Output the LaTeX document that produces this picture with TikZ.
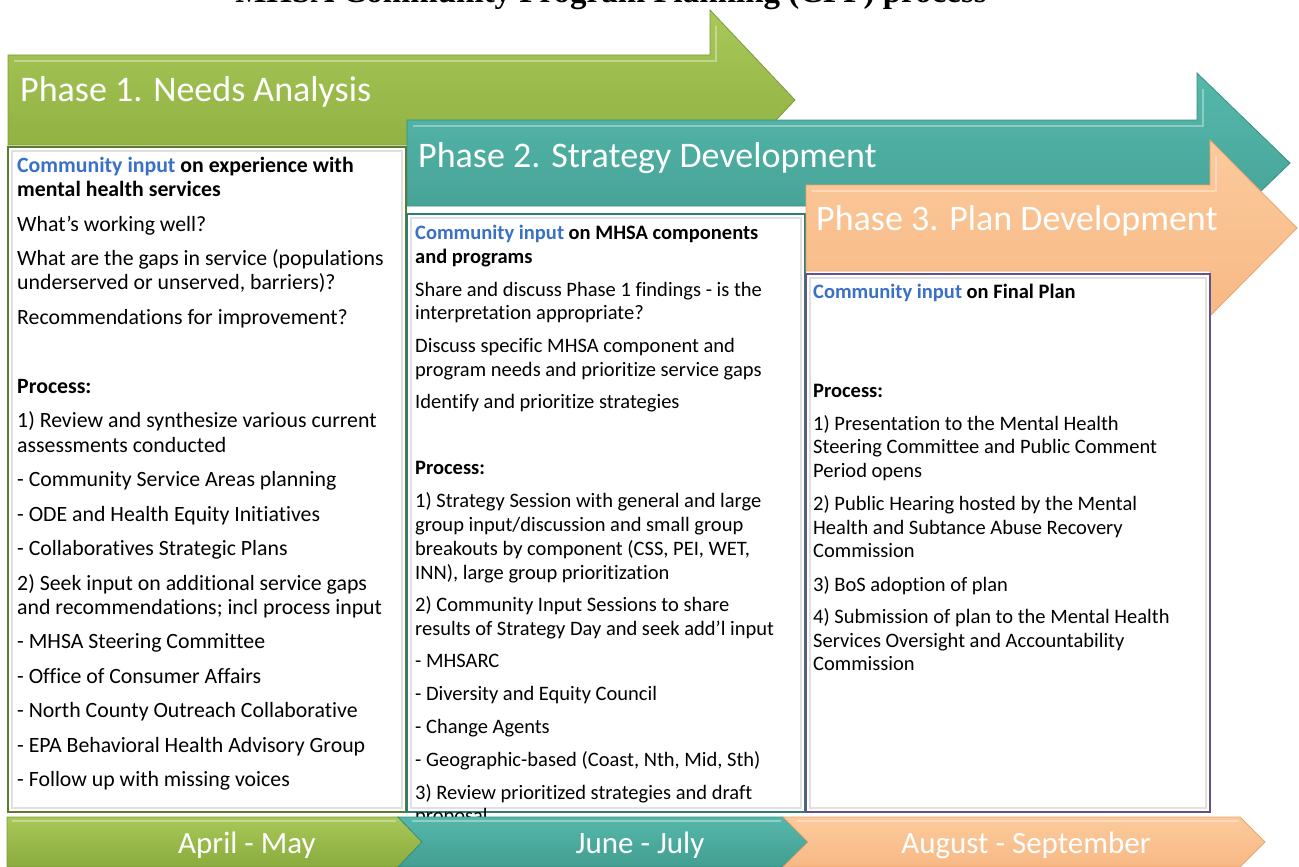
\documentclass[tikz,border=0pt]{standalone}
\usepackage{fontspec}
\setmainfont{Carlito}[Ligatures={ResetAll,NoCommon}]
\newfontfamily\titlefont{Liberation Serif}
\definecolor{gtop}{HTML}{A8C859}
\definecolor{gbot}{HTML}{8AAB3D}
\definecolor{gline}{HTML}{7D9C38}
\definecolor{ttop}{HTML}{55B8AB}
\definecolor{tbot}{HTML}{429E91}
\definecolor{tline}{HTML}{3A8D81}
\definecolor{ptop}{HTML}{FCCA9C}
\definecolor{pbot}{HTML}{F7B985}
\definecolor{pline}{HTML}{E9A56E}
\definecolor{b1line}{HTML}{5E7A2E}
\definecolor{b2line}{HTML}{2F7E72}
\definecolor{b3line}{HTML}{66508A}
\definecolor{ciblue}{HTML}{3A70C5}
\newcommand\cinput{\textcolor{ciblue}{\textbf{Community input}}}
\tikzset{
  garrow/.style={top color=gtop, bottom color=gbot, draw=gline, line width=0.8pt},
  tarrow/.style={top color=ttop, bottom color=tbot, draw=tline, line width=0.8pt},
  parrow/.style={top color=ptop, bottom color=pbot, draw=pline, line width=0.8pt},
  bevel/.style={draw=white, draw opacity=0.35, line width=1.5pt},
  boxA/.style={fill=white, draw=b1line, line width=1.6pt},
  boxB/.style={fill=white, draw=b2line, line width=1.6pt},
  boxC/.style={fill=white, draw=b3line, line width=1.6pt},
  innerframe/.style={draw=black!12, line width=2.5pt},
  headtxt/.style={anchor=base west, inner sep=0pt, text=white, font=\fontsize{36}{40}\selectfont},
  monthtxt/.style={anchor=base, inner sep=0pt, text=white, font=\fontsize{31}{34}\selectfont},
  txA/.style={anchor=base west, inner sep=0pt, font=\fontsize{21.8}{24}\selectfont},
  txB/.style={anchor=base west, inner sep=0pt, font=\fontsize{20.5}{23}\selectfont},
  titletxt/.style={anchor=base, inner sep=0pt, font=\titlefont\bfseries\fontsize{33}{36}\selectfont}
}
\begin{document}
\begin{tikzpicture}[x=1pt,y=-1pt]
\useasboundingbox (0,0) rectangle (1299,867);
\fill[white] (0,0) rectangle (1299,867);

% title (cut by the top edge, as in the reference)
\node[titletxt] (title) at (611,3) {MHSA Community Program Planning (CPP) process};

% Phase 1 arrow
\path[garrow] (8,55) -- (710,55) -- (710,10) -- (795,100) -- (710,190) -- (710,145) -- (8,145) -- cycle;
\draw[bevel] (14,61) -- (716,61) -- (716,26);
\node[headtxt] (h1) at (20,102) {Phase 1. Needs Analysis};

% Phase 1 box
\draw[boxA] (8,147) rectangle (406,812);
\draw[innerframe] (12,151) rectangle (402,808);

% Phase 2 arrow
\path[tarrow] (407,120) -- (1197,120) -- (1197,73) -- (1290,163) -- (1197,253) -- (1197,206) -- (407,206) -- cycle;
\draw[bevel] (413,126) -- (1203,126) -- (1203,89);
\node[headtxt] (h2) at (418,167) {Phase 2. Strategy Development};

% Phase 2 box
\draw[boxB] (407,214) rectangle (805,812);
\draw[innerframe] (411,218) rectangle (801,808);

% Phase 3 arrow
\path[parrow] (806,185) -- (1210,185) -- (1210,140) -- (1297,228) -- (1210,316) -- (1210,271) -- (806,271) -- cycle;
\draw[bevel] (812,191) -- (1216,191) -- (1216,156);
\node[headtxt] (h3) at (816,230) {Phase 3. Plan Development};

% Phase 3 box
\draw[boxC] (806,274) rectangle (1210,812);
\draw[innerframe] (810,278) rectangle (1206,808);

% Phase 1 text
\foreach \yy/\lt [count=\i] in {
  172/{\cinput\ \textbf{on experience with}},
  196/{\textbf{mental health services}},
  231/{What's working well?},
  265/{What are the gaps in service (populations},
  289/{underserved or unserved, barriers)?},
  324/{Recommendations for improvement?},
  393/{\textbf{Process:}},
  427/{1) Review and synthesize various current},
  452/{assessments conducted},
  486/{- Community Service Areas planning},
  521/{- ODE and Health Equity Initiatives},
  555/{- Collaboratives Strategic Plans},
  590/{2) Seek input on additional service gaps},
  614/{and recommendations; incl process input},
  648/{- MHSA Steering Committee},
  683/{- Office of Consumer Affairs},
  717/{- North County Outreach Collaborative},
  752/{- EPA Behavioral Health Advisory Group},
  786/{- Follow up with missing voices}}
  \node[txA, name=a\i] at (17,\yy) {\lt};

% Phase 2 text
\foreach \yy/\lt [count=\i] in {
  239/{\cinput\ \textbf{on MHSA components}},
  263/{\textbf{and programs}},
  296/{Share and discuss Phase 1 findings - is the},
  319/{interpretation appropriate?},
  352/{Discuss specific MHSA component and},
  376/{program needs and prioritize service gaps},
  408/{Identify and prioritize strategies},
  474/{\textbf{Process:}},
  507/{1) Strategy Session with general and large},
  531/{group input/discussion and small group},
  555/{breakouts by component (CSS, PEI, WET,},
  579/{INN), large group prioritization},
  611/{2) Community Input Sessions to share},
  635/{results of Strategy Day and seek add'l input},
  667/{- MHSARC},
  700/{- Diversity and Equity Council},
  733/{- Change Agents},
  766/{- Geographic-based (Coast, Nth, Mid, Sth)},
  799/{3) Review prioritized strategies and draft},
  822/{proposal}}
  \node[txB, name=b\i] at (415,\yy) {\lt};

% Phase 3 text
\foreach \yy/\lt [count=\i] in {
  298/{\cinput\ \textbf{on Final Plan}},
  397/{\textbf{Process:}},
  430/{1) Presentation to the Mental Health},
  453/{Steering Committee and Public Comment},
  477/{Period opens},
  510/{2) Public Hearing hosted by the Mental},
  534/{Health and Subtance Abuse Recovery},
  557/{Commission},
  591/{3) BoS adoption of plan},
  623/{4) Submission of plan to the Mental Health},
  647/{Services Oversight and Accountability},
  670/{Commission}}
  \node[txB, name=c\i] at (813,\yy) {\lt};

% bottom time bar
\path[garrow] (7,817) -- (398,817) -- (422,842) -- (398,867) -- (7,867) -- cycle;
\path[tarrow] (398,817) -- (783,817) -- (808,842) -- (783,867) -- (398,867) -- (422,842) -- cycle;
\path[parrow] (783,817) -- (1240,817) -- (1265,842) -- (1240,867) -- (783,867) -- (808,842) -- cycle;
\draw[bevel] (12,821) -- (396,821);
\draw[bevel] (412,821) -- (781,821);
\draw[bevel] (797,821) -- (1238,821);
\node[monthtxt] (m1) at (247,853) {April - May};
\node[monthtxt] (m2) at (640,853) {June - July};
\node[monthtxt] (m3) at (1026,853) {August - September};
\end{tikzpicture}
\end{document}
